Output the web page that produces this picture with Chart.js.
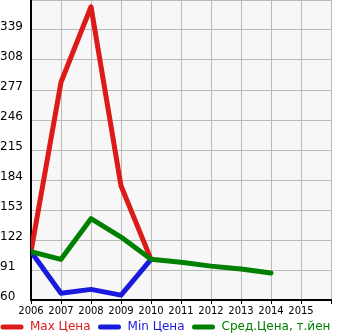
<!DOCTYPE html>
<html>
<head>
<meta charset="utf-8">
<script src="https://cdn.jsdelivr.net/npm/chart.js@4/dist/chart.umd.min.js"></script>
<style>
  html, body { margin: 0; padding: 0; background: #fff; }
  #wrap { width: 345px; height: 335px; position: relative; }
</style>
</head>
<body>
<div id="wrap"><canvas id="chart"></canvas></div>
<script>
// data
var years = [2006, 2007, 2008, 2009, 2010, 2011, 2012, 2013, 2014];
var maxPrice = [110, 285, 363, 178, 102];
var minPrice = [110, 67, 71, 65, 102];
var avgPrice = [110, 102, 144, 125, 102, 99, 95, 92, 88];
var xTicks = [2006, 2007, 2008, 2009, 2010, 2011, 2012, 2013, 2014, 2015, 2016];
var yTicks = [60, 91, 122, 153, 184, 215, 246, 277, 308, 339, 370];
var seriesNames = ["Max Цена", "Min Цена", "Сред.Цена, т.йен"];
var colors = ["#dc1a1a", "#1a1adc", "#008000"];

function pts(vals) {
  return vals.map(function (v, i) { return { x: years[i], y: v }; });
}

var bgPlugin = {
  id: 'bg',
  beforeDraw: function (chart) {
    var a = chart.chartArea, ctx = chart.ctx;
    ctx.save();
    ctx.fillStyle = '#f7f7f7';
    ctx.fillRect(a.left, a.top, a.right - a.left, a.bottom - a.top);
    ctx.restore();
  }
};

// legend under the axis, drawn by hand so it can run off the right edge
var legendPlugin = {
  id: 'myLegend',
  afterDraw: function (chart) {
    var ctx = chart.ctx;
    var x = 3, y = 327;
    ctx.save();
    ctx.font = '12px "DejaVu Sans"';
    ctx.textBaseline = 'middle';
    ctx.lineCap = 'round';
    ctx.lineWidth = 5;
    seriesNames.forEach(function (name, i) {
      ctx.strokeStyle = colors[i];
      ctx.beginPath();
      ctx.moveTo(x, y);
      ctx.lineTo(x + 18, y);
      ctx.stroke();
      ctx.fillStyle = colors[i];
      ctx.fillText(name, x + 27, y);
      x += 27 + ctx.measureText(name).width + 10;
    });
    ctx.restore();
  }
};

new Chart(document.getElementById("chart"), {
  type: 'line',
  data: {
    datasets: [
      { label: seriesNames[0], data: pts(maxPrice), borderColor: colors[0], order: 3 },
      { label: seriesNames[1], data: pts(minPrice), borderColor: colors[1], order: 2 },
      { label: seriesNames[2], data: pts(avgPrice), borderColor: colors[2], order: 1 }
    ]
  },
  options: {
    responsive: true,
    maintainAspectRatio: false,
    animation: false,
    layout: { padding: { left: 0, right: 14, top: 0, bottom: 0 } },
    elements: {
      line: { borderWidth: 5, tension: 0, borderCapStyle: 'round', borderJoinStyle: 'round', fill: false },
      point: { radius: 0, hoverRadius: 0 }
    },
    plugins: {
      legend: { display: false },
      tooltip: { enabled: false }
    },
    scales: {
      x: {
        type: 'linear',
        min: 2006,
        max: 2016,
        afterBuildTicks: function (s) { s.ticks = xTicks.map(function (v) { return { value: v }; }); },
        afterFit: function (s) { s.height = 35; s.paddingLeft = 0; s.paddingRight = 0; },
        grid: { color: '#bbbbbb', tickColor: '#000', tickLength: 4, lineWidth: 1 },
        border: { color: '#000', width: 2 },
        ticks: {
          autoSkip: false,
          maxRotation: 0,
          padding: 1,
          color: '#000',
          font: { family: 'DejaVu Sans', size: 10 },
          callback: function (v) { return v === 2016 ? '' : String(v); }
        }
      },
      y: {
        min: 60,
        max: 370,
        afterBuildTicks: function (s) { s.ticks = yTicks.map(function (v) { return { value: v }; }); },
        afterFit: function (s) { s.width = 31; s.paddingTop = 0; s.paddingBottom = 0; },
        grid: { color: '#bbbbbb', drawTicks: false, lineWidth: 1 },
        border: { color: '#000', width: 2 },
        ticks: {
          crossAlign: 'far',
          padding: 4,
          labelOffset: -3,
          color: '#000',
          font: { family: 'DejaVu Sans', size: 12 },
          callback: function (v) { return v === 370 ? '' : String(v); }
        }
      }
    }
  },
  plugins: [bgPlugin, legendPlugin]
});
</script>
</body>
</html>
